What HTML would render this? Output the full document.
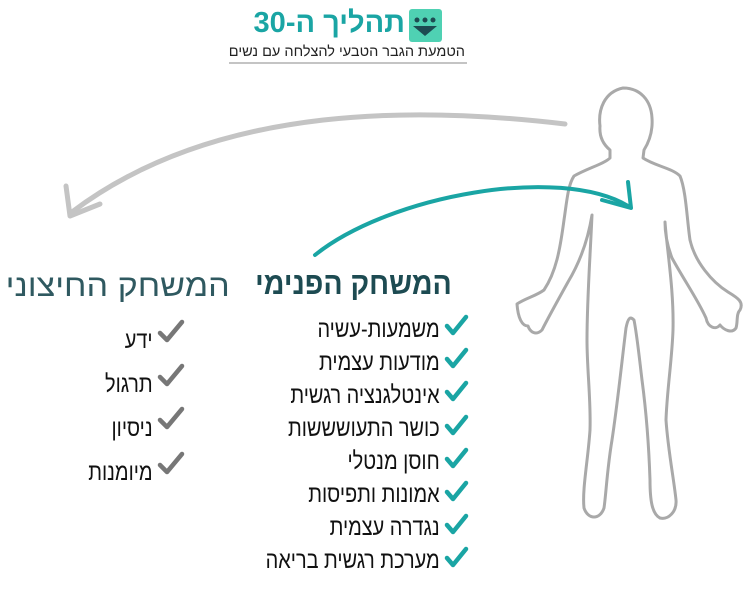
<!DOCTYPE html>
<html><head><meta charset="utf-8"><style>
body{margin:0;width:755px;height:596px;background:#fff;position:relative;overflow:hidden;font-family:"Liberation Sans","DejaVu Sans",sans-serif;}
.t{position:absolute;direction:rtl;white-space:nowrap;transform-origin:right top;}
svg{position:absolute;left:0;top:0;}
</style></head><body>
<svg width="755" height="596" viewBox="0 0 755 596">
<path d="M623,88 C640,88 651,100 652,118 C653,132 649,142 644,150 L643,158 C655,166 672,168 680,176 C686,190 687,220 690,240 C695,262 712,282 728,292 C738,298 744,302 740,310 C736,314 738,322 736,328 C732,334 724,330 720,325 C716,330 708,328 706,318 C698,300 684,280 672,258 C667,245 665,232 665,222 C667,250 674,290 673,330 C672,360 667,390 666,420 C668,450 674,480 676,500 C677,512 668,520 660,518 C652,514 650,500 650,480 C649,450 646,410 642,380 C639,355 637,335 634,320 C630,316 628,318 626,328 C622,360 618,400 612,440 C607,470 606,495 604,508 C600,520 588,520 584,508 C582,490 588,460 590,430 C591,400 587,370 587,340 C587,300 590,260 592,215 C588,240 580,262 568,282 C558,300 548,318 542,330 C536,336 530,332 528,326 C522,326 518,318 517,304 C526,298 536,296 544,290 C556,272 560,250 564,220 C567,200 568,185 574,176 C588,168 604,164 610,158 L610,150 C604,145 599,138 600,126 C598,110 604,92 623,88 Z" fill="none" stroke="#a9a9a9" stroke-width="3" stroke-linejoin="round"/>
<path d="M565,124 C430,108 220,100 72,212" fill="none" stroke="#c4c4c4" stroke-width="5" stroke-linecap="round"/>
<path d="M66,186 L70,216 L100,204" fill="none" stroke="#c4c4c4" stroke-width="5" stroke-linecap="round" stroke-linejoin="round"/>
<path d="M315,255 C390,195 560,165 628,206" fill="none" stroke="#1aa5a4" stroke-width="4" stroke-linecap="round"/>
<path d="M628,182 L631,208 L602,200" fill="none" stroke="#1aa5a4" stroke-width="4" stroke-linecap="round" stroke-linejoin="round"/>
<rect x="409" y="9" width="33" height="33" rx="3" fill="#4fd1b3"/>
<g fill="#1d4b52"><circle cx="417" cy="20" r="2.5"/><circle cx="425" cy="20" r="2.5"/><circle cx="433" cy="20" r="2.5"/><path d="M413,26 L437,26 L425,36 Z"/></g>
<line x1="229" y1="63" x2="467" y2="63" stroke="#888" stroke-width="1"/>
<g fill="none" stroke="#1aa5a4" stroke-width="4.5" stroke-linecap="round" stroke-linejoin="round">
<path d="M447,326 L453,333 L466,317"/><path d="M447,359 L453,366 L466,350"/><path d="M447,392 L453,399 L466,383"/><path d="M447,426 L453,433 L466,417"/><path d="M447,459 L453,466 L466,450"/><path d="M447,492 L453,499 L466,483"/><path d="M447,525 L453,532 L466,516"/><path d="M447,558 L453,565 L466,549"/>
</g>
<g fill="none" stroke="#777" stroke-width="4.5" stroke-linecap="round" stroke-linejoin="round">
<path d="M160,333 L167,340 L182,322"/><path d="M160,377 L167,384 L182,366"/><path d="M160,420 L167,427 L182,409"/><path d="M160,465 L167,472 L182,454"/>
</g>
</svg>
<div class="t" style="right:350px;top:7px;font-size:29px;font-weight:bold;color:#1aa5a4;">תהליך ה-30</div>
<div class="t" style="right:290px;top:44px;font-size:14.5px;color:#222;">הטמעת הגבר הטבעי להצלחה עם נשים</div>
<div class="t" style="right:303px;top:266px;font-size:31px;font-weight:bold;color:#1d4b52;transform:scaleX(0.92);">המשחק הפנימי</div>
<div class="t" style="right:315px;top:313px;font-size:24px;line-height:33px;color:#111;text-align:right;transform:scaleX(0.83);">משמעות-עשיה<br>מודעות עצמית<br>אינטלגנציה רגשית<br>כושר התעושששות<br>חוסן מנטלי<br>אמונות ותפיסות<br>נגדרה עצמית<br>מערכת רגשית בריאה</div>
<div class="t" style="right:525px;top:268px;font-size:31px;color:#2f5960;transform:scaleX(1.1);">המשחק החיצוני</div>
<div class="t" style="right:602px;top:319px;font-size:24px;line-height:44px;color:#111;text-align:right;transform:scaleX(0.83);">ידע<br>תרגול<br>ניסיון<br>מיומנות</div>
</body></html>
